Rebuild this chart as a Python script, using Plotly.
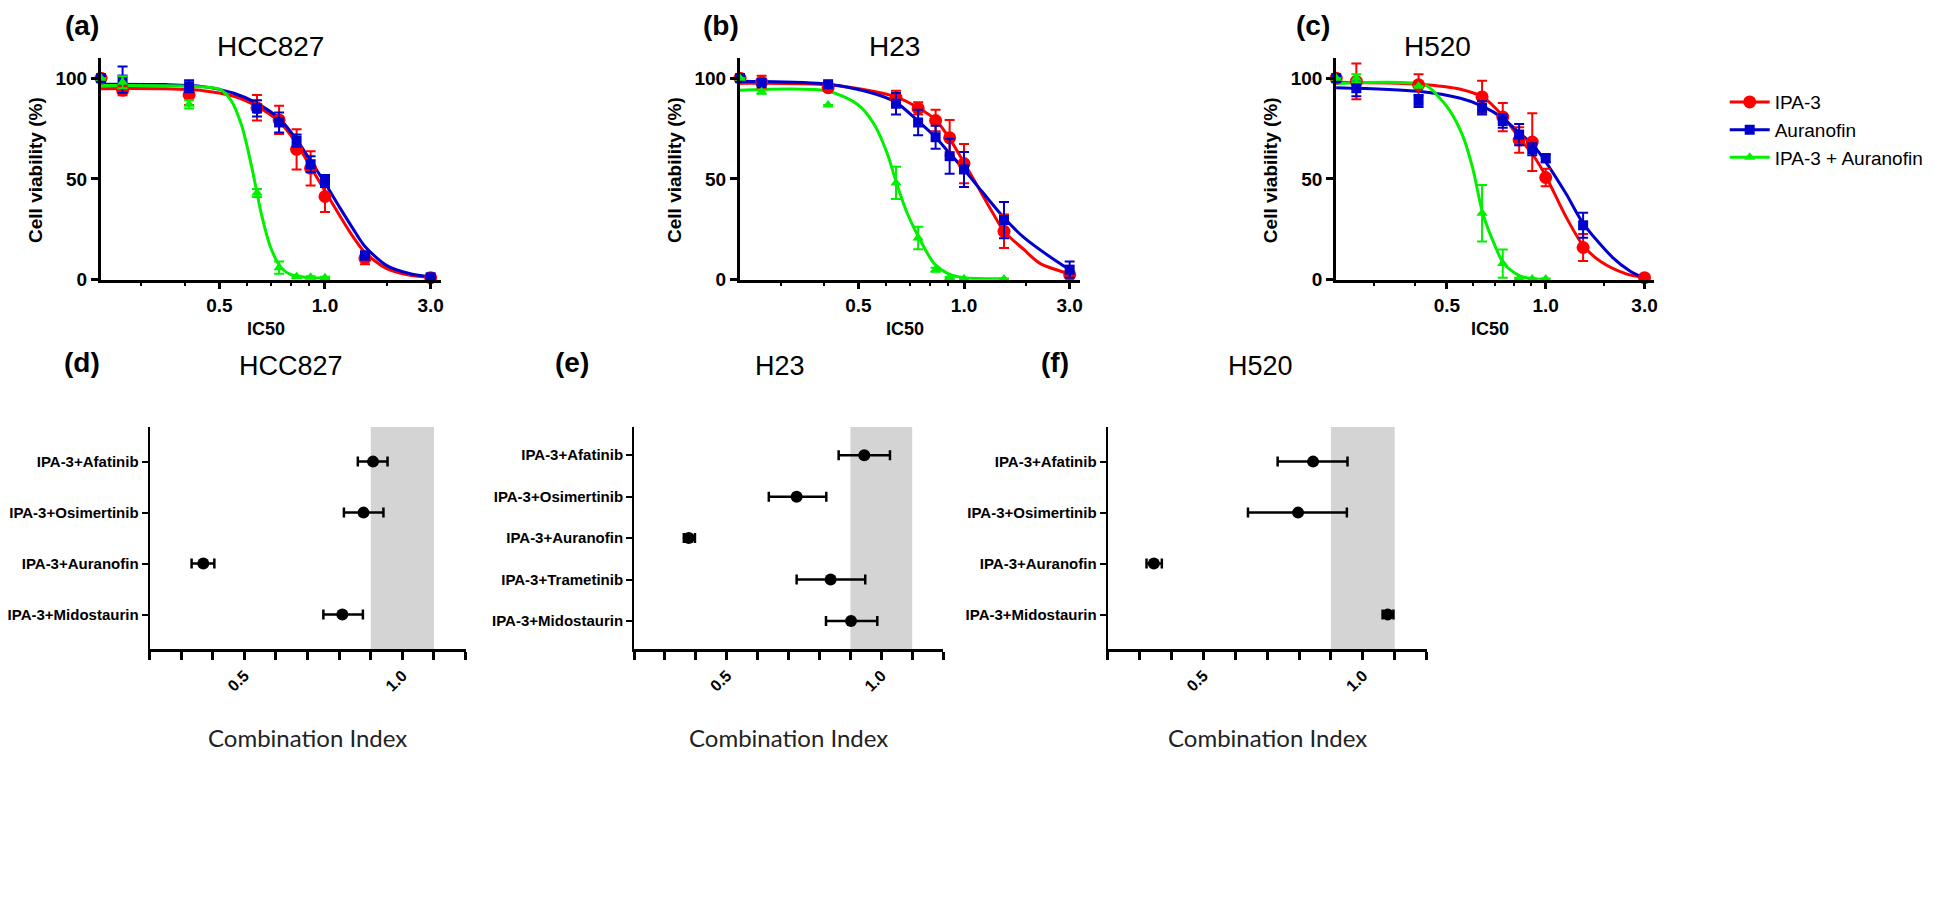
import numpy as np
import plotly.graph_objects as go

W, H = 1946, 924
PAGE_MARGIN = 8  # browser body margin around the plot div

# ---- dose-response data (top row) ----
DOSE = [0.23, 0.265, 0.41, 0.64, 0.74, 0.83, 0.91, 1.0, 1.3, 2.0]
X_TICKS = [0.5, 1.0, 2.0]
X_TICKTEXT = ['0.5', '1.0', '3.0']
X_MINOR = [0.3, 0.4, 0.6, 0.7, 0.8, 0.9, 1.5]

# HCC827
a_red = [100, 94, 91.7, 85.3, 79.3, 64.7, 55.3, 41.3, 10.7, 1.0]
a_red_err = [0, 2.5, 5, 6.3, 7, 10, 8.5, 7.7, 3, 1]
a_blue = [100, 99.3, 96, 85, 78, 69, 57.3, 49, 12, 1.2]
a_blue_err = [0, 6.5, 3, 4, 5, 3, 4, 3, 2, 0.5]
a_green = [100, 98, 87, 43, 6, 1.5, 1.2, 1.0]
a_green_err = [0, 3, 2, 2, 3, 0.5, 0.5, 0.5]
a_red_fit_x = [0.23, 0.35, 0.45, 0.55, 0.64, 0.74, 0.83, 0.91, 1.0, 1.1, 1.2, 1.3, 1.5, 1.75, 2.0]
a_red_fit_y = [94.8, 94.7, 93.8, 91, 86, 78.5, 67.5, 56, 44, 32, 21.5, 13.5, 5.5, 2.2, 1.2]
a_blue_fit_x = a_red_fit_x
a_blue_fit_y = [97, 96.8, 95.8, 92.5, 87.5, 80, 69.5, 59, 48, 36, 25.5, 16.5, 7, 3, 1.5]
a_green_fit_x = [0.23, 0.4, 0.5, 0.54, 0.58, 0.62, 0.66, 0.7, 0.75, 0.8, 0.9, 1.0]
a_green_fit_y = [96.3, 96, 94.5, 89, 76, 55, 32, 16, 6, 2.5, 1, 0.8]

# H23
b_red = [100, 98, 95.3, 90.4, 85, 79, 70.4, 57.6, 24, 2.5]
b_red_err = [0, 3.2, 1, 3.3, 3, 5.3, 8.8, 9.7, 8.3, 1]
b_blue = [100, 97.6, 97, 87.3, 78, 70.7, 61.3, 54.7, 29.6, 5]
b_blue_err = [0, 1, 1, 5.3, 6.3, 5.7, 8.7, 8.7, 9, 4]
b_green = [100, 93.3, 86.7, 48, 20.7, 5, 1, 0.5, 0.3]
b_green_err = [0, 1, 0, 8, 5.6, 1, 0.5, 0.3, 0.3]
b_red_fit_x = [0.23, 0.41, 0.55, 0.64, 0.74, 0.83, 0.91, 1.0, 1.09, 1.2, 1.3, 1.48, 1.65, 2.0]
b_red_fit_y = [97.5, 96.7, 93.5, 90.7, 85.3, 79.3, 70, 58, 46.7, 34, 24, 15, 8, 3]
b_blue_fit_x = [0.23, 0.41, 0.55, 0.64, 0.74, 0.83, 0.91, 1.0, 1.09, 1.3, 1.48, 1.84, 2.0]
b_blue_fit_y = [98.5, 97, 92.5, 88, 78.7, 70.7, 62.7, 54.7, 46.7, 30.7, 21, 9, 5]
b_green_fit_x = [0.23, 0.41, 0.5, 0.555, 0.604, 0.642, 0.689, 0.745, 0.822, 0.9, 1.0, 1.3]
b_green_fit_y = [94, 93.5, 86.7, 77, 62.7, 48, 33, 20.7, 8, 3, 1, 0.5]

# H520
c_red = [100, 98.4, 96.7, 90.7, 80.7, 69.3, 68.3, 50.7, 16, 1]
c_red_err = [0, 8.9, 5.3, 8, 7, 6.3, 14.3, 4.3, 6.7, 1]
c_blue = [100, 95, 88.7, 85.3, 78.7, 72, 64.7, 60.3, 27]
c_blue_err = [0, 4, 3, 3.3, 3.3, 5.3, 3, 2, 6.2]
c_green = [100, 100, 96, 33, 8, 0.5, 0.3, 0.3]
c_green_err = [0, 2, 0, 14, 7, 0.5, 0.3, 0.3]
c_red_fit_x = [0.23, 0.41, 0.55, 0.644, 0.742, 0.829, 0.914, 1.0, 1.155, 1.3, 1.47, 1.75, 2.0]
c_red_fit_y = [98, 97, 94.5, 90.5, 81, 70.5, 62, 51.5, 31, 17, 9, 3, 1]
c_blue_fit_x = [0.23, 0.41, 0.55, 0.644, 0.742, 0.829, 0.914, 1.0, 1.155, 1.3, 1.6, 1.8, 1.95]
c_blue_fit_y = [95.3, 93.5, 90, 86, 80, 73, 67, 58.5, 42.5, 28, 11, 4.5, 1.5]
c_green_fit_x = [0.23, 0.43, 0.47, 0.51, 0.56, 0.6, 0.643, 0.7, 0.745, 0.83, 0.91, 1.0]
c_green_fit_y = [97.3, 96.5, 91, 84, 71, 55, 33, 17, 8, 2, 0.5, 0.2]

# ---- combination index data (bottom row) ----
d_labels = ['IPA-3+Afatinib', 'IPA-3+Osimertinib', 'IPA-3+Auranofin', 'IPA-3+Midostaurin']
d_ci = [0.907, 0.877, 0.37, 0.81]
d_lo = [0.859, 0.815, 0.333, 0.75]
d_hi = [0.953, 0.94, 0.405, 0.875]

e_labels = ['IPA-3+Afatinib', 'IPA-3+Osimertinib', 'IPA-3+Auranofin', 'IPA-3+Trametinib', 'IPA-3+Midostaurin']
e_ci = [0.945, 0.726, 0.377, 0.836, 0.902]
e_lo = [0.862, 0.636, 0.361, 0.726, 0.821]
e_hi = [1.028, 0.822, 0.397, 0.948, 0.987]

f_labels = ['IPA-3+Afatinib', 'IPA-3+Osimertinib', 'IPA-3+Auranofin', 'IPA-3+Midostaurin']
f_ci = [0.844, 0.797, 0.345, 1.078]
f_lo = [0.733, 0.64, 0.322, 1.062]
f_hi = [0.952, 0.95, 0.37, 1.096]

CI_TICKS = [0.2, 0.3, 0.4, 0.5, 0.6, 0.7, 0.8, 0.9, 1.0, 1.1, 1.2]
CI_LABELED = ['0.5', '1.0']
ADDITIVE_BAND = (0.9, 1.1)

SERIES = ['IPA-3', 'Auranofin', 'IPA-3 + Auranofin']
RED, BLUE, GREEN = 'rgb(255,0,0)', 'rgb(0,0,205)', 'rgb(0,240,0)'

ARIAL = 'Liberation Sans, Arial, sans-serif'
NARROW = 'Liberation Sans Narrow, Arial Narrow, Liberation Sans, sans-serif'


def px(x):
    return (x - PAGE_MARGIN) / W


def py(y):
    return 1 - (y - PAGE_MARGIN) / H


fig = go.Figure()

# letter, title, title centre, plot x-span, data...
top_panels = [
    ('a', 'HCC827', 269, (99, 440), a_red, a_red_err, a_blue, a_blue_err, a_green, a_green_err,
     (a_red_fit_x, a_red_fit_y), (a_blue_fit_x, a_blue_fit_y), (a_green_fit_x, a_green_fit_y)),
    ('b', 'H23', 895, (740, 1081), b_red, b_red_err, b_blue, b_blue_err, b_green, b_green_err,
     (b_red_fit_x, b_red_fit_y), (b_blue_fit_x, b_blue_fit_y), (b_green_fit_x, b_green_fit_y)),
    ('c', 'H520', 1440, (1338, 1657), c_red, c_red_err, c_blue, c_blue_err, c_green, c_green_err,
     (c_red_fit_x, c_red_fit_y), (c_blue_fit_x, c_blue_fit_y), (c_green_fit_x, c_green_fit_y)),
]

axis_line = dict(showline=True, linecolor='black', linewidth=2.5, showgrid=False,
                 zeroline=False, ticks='outside', tickcolor='black')

annotations = []
for i, (letter, title, tx, (x0, x1), r, re, b, be, g, ge, rf, bf, gf) in enumerate(top_panels):
    n = i + 1
    xa, ya = 'x%d' % n, 'y%d' % n
    specs = [(rf, r, re, RED, 'circle', 13),
             (bf, b, be, BLUE, 'square', 10),
             (gf, g, ge, GREEN, 'triangle-up', 10)]
    for fit, vals, err, col, sym, size in specs:
        fig.add_trace(go.Scatter(x=fit[0], y=fit[1], mode='lines', xaxis=xa, yaxis=ya,
                                 line=dict(color=col, width=3, shape='spline', smoothing=0.8),
                                 showlegend=False, hoverinfo='skip', cliponaxis=False))
    for k, (fit, vals, err, col, sym, size) in enumerate(specs):
        fig.add_trace(go.Scatter(x=DOSE[:len(vals)], y=vals, mode='markers', xaxis=xa, yaxis=ya,
                                 marker=dict(color=col, symbol=sym, size=size),
                                 error_y=dict(type='data', array=err, color=col, thickness=2, width=5),
                                 showlegend=False, cliponaxis=False, name=SERIES[k]))
    fig.layout['xaxis%d' % n] = dict(
        axis_line, domain=[px(x0), px(x1)], anchor=ya, type='log',
        range=[np.log10(0.2296), np.log10(2.136)],
        tickmode='array', tickvals=X_TICKS, ticktext=X_TICKTEXT, ticklen=7, tickwidth=2.5,
        tickfont=dict(family=ARIAL, size=19, color='black', weight='bold'),
        minor=dict(tickvals=X_MINOR, ticks='outside', ticklen=4, tickwidth=2, tickcolor='black'))
    fig.layout['yaxis%d' % n] = dict(
        axis_line, domain=[py(283), py(58.6)], anchor=xa, range=[0, 110],
        tickmode='array', tickvals=[0, 50, 100], ticklen=7, tickwidth=2.5,
        tickfont=dict(family=ARIAL, size=19, color='black', weight='bold'))
    cx = (x0 + x1) / 2
    annotations += [
        dict(text='(%s)' % letter, x=px(x0 - 19 if n < 3 else x0 - 23), y=1, yanchor='top',
             font=dict(size=28, weight='bold')),
        dict(text=title, x=px(tx), y=py(47), font=dict(size=28)),
        dict(text='IC50', x=px(cx - 5), y=py(333), font=dict(size=18, weight='bold')),
        dict(text='Cell viability (%)', x=px(x0 - 66), y=py(172), textangle=-90,
             font=dict(size=19, weight='bold')),
    ]

# legend entries (no data, only key swatches)
for name, col, sym, size in [(SERIES[0], RED, 'circle', 13), (SERIES[1], BLUE, 'square', 10),
                             (SERIES[2], GREEN, 'triangle-up', 10)]:
    fig.add_trace(go.Scatter(x=[None], y=[None], mode='lines+markers', name=name,
                             xaxis='x3', yaxis='y3',
                             line=dict(color=col, width=3), marker=dict(color=col, symbol=sym, size=size)))

bottom_panels = [
    ('d', 'HCC827', 290, 80, (148, 465), d_labels, d_ci, d_lo, d_hi),
    ('e', 'H23', 780, 572, (634, 944), e_labels, e_ci, e_lo, e_hi),
    ('f', 'H520', 1262, 1056, (1109, 1429), f_labels, f_ci, f_lo, f_hi),
]

shapes = []
for i, (letter, title, tx, lx, (x0, x1), labels, ci, lo, hi) in enumerate(bottom_panels):
    n = i + 4
    xa, ya = 'x%d' % n, 'y%d' % n
    cat = list(range(len(labels)))
    fig.add_trace(go.Scatter(
        x=ci, y=cat, mode='markers', xaxis=xa, yaxis=ya, showlegend=False, cliponaxis=False,
        marker=dict(color='black', size=12),
        error_x=dict(type='data', symmetric=False,
                     array=[h - c for h, c in zip(hi, ci)],
                     arrayminus=[c - l for c, l in zip(ci, lo)],
                     color='black', thickness=2.5, width=5)))
    fig.layout['xaxis%d' % n] = dict(
        axis_line, domain=[px(x0), px(x1)], anchor=ya, range=[0.2, 1.2],
        tickmode='array', tickvals=CI_TICKS,
        ticktext=[('%.1f' % t if '%.1f' % t in CI_LABELED else '') for t in CI_TICKS],
        tickangle=-45, ticklen=8, tickwidth=2.5,
        tickfont=dict(family=ARIAL, size=16, color='black', weight='bold'))
    fig.layout['yaxis%d' % n] = dict(
        axis_line, domain=[py(657), py(432)], anchor=xa,
        range=[len(labels) - 1 + 0.68, -0.68], linewidth=2,
        tickmode='array', tickvals=cat, ticktext=labels, ticklen=6, tickwidth=2,
        tickfont=dict(family=NARROW, size=15, color='black', weight='bold'))
    shapes.append(dict(type='rect', xref=xa, yref='%s domain' % ya,
                       x0=ADDITIVE_BAND[0], x1=ADDITIVE_BAND[1], y0=0, y1=1,
                       fillcolor='rgb(212,212,212)', line=dict(width=0), layer='below'))
    cx = (x0 + x1) / 2
    annotations += [
        dict(text='(%s)' % letter, x=px(lx), y=py(367), font=dict(size=28, weight='bold')),
        dict(text=title, x=px(tx), y=py(370), font=dict(size=27)),
        dict(text='Combination Index', x=px(cx), y=py(746),
             font=dict(family='Lato, Open Sans, sans-serif', size=24, color='#222')),
    ]

for a in annotations:
    a.setdefault('yanchor', 'middle')
    a.update(xref='paper', yref='paper', showarrow=False, xanchor='center')
    a['font'] = dict(dict(family=ARIAL, color='black'), **a['font'])

fig.update_layout(
    width=W, height=H, margin=dict(l=0, r=0, t=0, b=0),
    paper_bgcolor='white', plot_bgcolor='white',
    annotations=annotations, shapes=shapes,
    legend=dict(x=px(1728), y=py(84), xanchor='left', yanchor='top',
                font=dict(family=ARIAL, size=19, color='black'),
                tracegroupgap=0, itemwidth=40, bgcolor='rgba(0,0,0,0)'),
)

fig.write_html("out.html")
